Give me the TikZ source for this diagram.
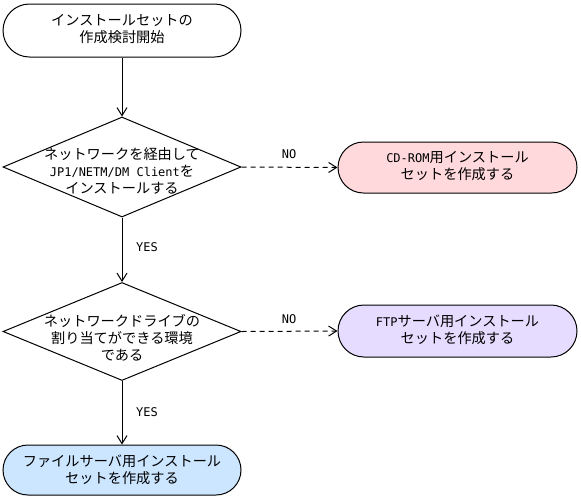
\documentclass[tikz,border=0pt]{standalone}
\usepackage{fontspec}
\setmainfont{Noto Sans CJK JP}
\newfontfamily\monofont{DejaVu Sans Mono}
\usetikzlibrary{shapes.misc,shapes.geometric,arrows.meta}
\definecolor{pinkfill}{HTML}{FFD9DC}
\definecolor{lavfill}{HTML}{E6DCFF}
\definecolor{bluefill}{HTML}{CCE6FF}
\tikzset{
  x=1pt,y=-1pt,
  every node/.style={font=\fontsize{14.2}{17}\selectfont},
  term/.style={draw,line width=1pt,rounded rectangle,minimum width=238pt,inner sep=0pt},
  dia/.style={draw,line width=1pt,diamond,minimum width=238pt,inner sep=0pt},
  txt/.style={align=center,inner sep=0pt},
  lbl/.style={font=\monofont\fontsize{12}{14}\selectfont,inner sep=0pt},
  flow/.style={line width=1pt,-{Straight Barb[length=8pt,width=10pt,line width=1pt]}},
  noflow/.style={flow,dash pattern=on 5pt off 4pt},
}
\begin{document}
\begin{tikzpicture}
\useasboundingbox (0,0) rectangle (581,499);
\node[term,minimum height=53pt] (start) at (122,30.5) {};
\node[txt] (starttxt) at (122,29) {インストールセットの\\作成検討開始};
\node[dia,minimum height=100pt] (d1) at (122,167) {};
\node[txt] (d1txt) at (122,171) {ネットワークを経由して\\{\monofont\fontsize{12}{17}\selectfont JP1/NETM/DM Client}を\\インストールする};
\node[dia,minimum height=98pt] (d2) at (122,331.5) {};
\node[txt] (d2txt) at (122,338) {ネットワークドライブの\\割り当てができる環境\\である};
\node[term,minimum height=50pt,fill=bluefill] (fs) at (122,470) {};
\node[txt] (fstxt) at (122,469.5) {ファイルサーバ用インストール\\セットを作成する};
\node[term,minimum width=239pt,minimum height=51pt,fill=pinkfill] (cd) at (457.5,167.5) {};
\node[txt] (cdtxt) at (457.5,166) {{\monofont\fontsize{12}{17}\selectfont CD-ROM}用インストール\\セットを作成する};
\node[term,minimum width=239pt,minimum height=52pt,fill=lavfill] (ftp) at (457.5,331) {};
\node[txt] (ftptxt) at (457.5,330) {{\monofont\fontsize{12}{17}\selectfont FTP}サーバ用インストール\\セットを作成する};
\draw[flow] (start) -- (d1.north);
\draw[flow] (d1.south) -- (d2.north);
\draw[flow] (d2.south) -- (fs.north);
\draw[noflow] (d1.east) -- (cd.west);
\draw[noflow] (d2.east) -- (ftp.west);
\node[lbl] (yes1) at (147,247.5) {YES};
\node[lbl] (yes2) at (147,412) {YES};
\node[lbl] (no1) at (289,154) {NO};
\node[lbl] (no2) at (289,319) {NO};
\end{tikzpicture}
\end{document}
